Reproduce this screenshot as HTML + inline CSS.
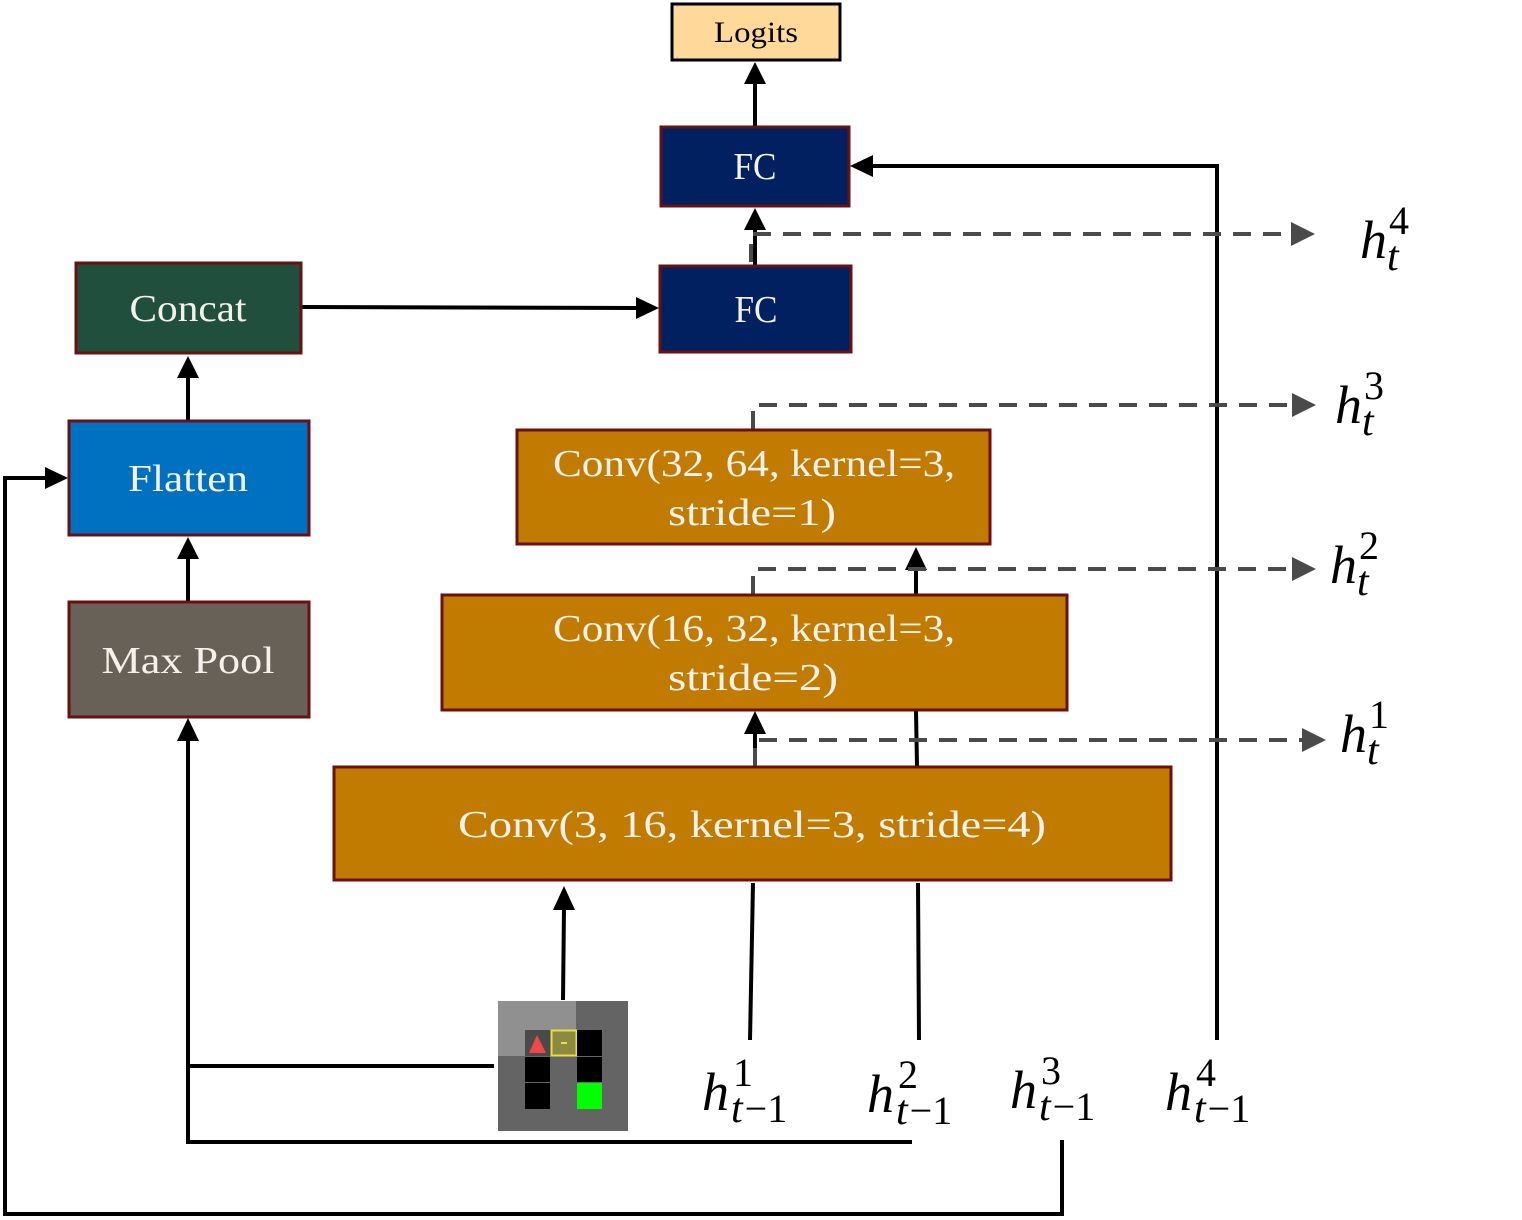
<!DOCTYPE html>
<html><head><meta charset="utf-8"><style>
html,body{margin:0;padding:0;background:#fff}
svg{display:block}
text{font-family:"Liberation Serif",serif}
.bt{fill:#f4f1ea;font-size:38px;text-anchor:middle}
.m{font-style:italic;font-size:54px;fill:#000}
.s{font-style:normal;font-size:40px}
.si{font-style:italic;font-size:42px}
</style></head><body>
<svg width="1522" height="1220" viewBox="0 0 1522 1220" xmlns="http://www.w3.org/2000/svg">
<g stroke="#000" stroke-width="4" fill="none">
<line x1="755" y1="126" x2="755" y2="80"/>
<line x1="755" y1="265" x2="755" y2="228"/>
<polyline points="1217,1040 1217,166 870,166"/>
<line x1="302" y1="307" x2="640" y2="308"/>
<line x1="188" y1="420" x2="188" y2="378"/>
<line x1="188" y1="601" x2="188" y2="558"/>
<polyline points="1062,1140 1062,1214 5,1214 5,478 48,478"/>
<polyline points="912,1142 188,1142 188,740"/>
<line x1="188" y1="1066" x2="494" y2="1066"/>
<line x1="563" y1="1000" x2="564" y2="908"/>
<line x1="750" y1="1040" x2="753" y2="883"/>
<line x1="755" y1="766" x2="755" y2="733"/>
<line x1="919" y1="1040" x2="918" y2="883"/>
<line x1="917" y1="766" x2="916" y2="711"/>
<line x1="916" y1="594" x2="916" y2="568"/>
</g>
<g fill="#000">
<polygon points="755,62 744,84 766,84"/>
<polygon points="755,208 744,230 766,230"/>
<polygon points="850,166 873,155 873,177"/>
<polygon points="659,308 636,297 636,319"/>
<polygon points="188,356 177,378 199,378"/>
<polygon points="188,537 177,559 199,559"/>
<polygon points="68,478 45,467 45,489"/>
<polygon points="188,718 177,741 199,741"/>
<polygon points="564,886 553,910 575,910"/>
<polygon points="755,711 744,734 766,734"/>
<polygon points="916,547 905,570 927,570"/>
</g>
<g stroke="#4a4a4a" stroke-width="4" fill="none" stroke-dasharray="18,12">
<polyline points="751,262 751,234 1292,234"/>
<polyline points="753,429 753,405 1292,405"/>
<polyline points="753,594 753,569 1292,569"/>
<polyline points="755,766 755,740 1302,740"/>
</g>
<g fill="#4a4a4a">
<polygon points="1315,234 1291,222 1291,246"/>
<polygon points="1316,405 1292,393 1292,417"/>
<polygon points="1316,569 1292,557 1292,581"/>
<polygon points="1326,740 1302,728 1302,752"/>
</g>
<rect x="672" y="4" width="168" height="56" fill="#ffd99a" stroke="#000" stroke-width="3"/>
<text x="756" y="42" font-size="30" text-anchor="middle" fill="#000" textLength="84" lengthAdjust="spacingAndGlyphs">Logits</text>
<rect x="661" y="127" width="188" height="79" fill="#002060" stroke="#6b1010" stroke-width="3"/>
<text x="755" y="179" class="bt" textLength="43" lengthAdjust="spacingAndGlyphs">FC</text>
<rect x="660" y="266" width="191" height="86" fill="#002060" stroke="#6b1010" stroke-width="3"/>
<text x="756" y="322" class="bt" textLength="43" lengthAdjust="spacingAndGlyphs">FC</text>
<rect x="76" y="263" width="225" height="90" fill="#214f3d" stroke="#6b1010" stroke-width="3"/>
<text x="188" y="321" class="bt" textLength="117" lengthAdjust="spacingAndGlyphs">Concat</text>
<rect x="69" y="421" width="240" height="114" fill="#0070c0" stroke="#6b1010" stroke-width="3"/>
<text x="188" y="491" class="bt" textLength="120" lengthAdjust="spacingAndGlyphs">Flatten</text>
<rect x="69" y="602" width="240" height="115" fill="#686158" stroke="#6b1010" stroke-width="3"/>
<text x="188" y="673" class="bt" font-size="42" textLength="173" lengthAdjust="spacingAndGlyphs">Max Pool</text>
<rect x="517" y="430" width="473" height="114" fill="#c07b00" stroke="#6b1010" stroke-width="3"/>
<text x="754" y="476" class="bt" textLength="402" lengthAdjust="spacingAndGlyphs">Conv(32, 64, kernel=3,</text>
<text x="752" y="525" class="bt" textLength="168" lengthAdjust="spacingAndGlyphs">stride=1)</text>
<rect x="442" y="595" width="625" height="115" fill="#c07b00" stroke="#6b1010" stroke-width="3"/>
<text x="754" y="641" class="bt" textLength="402" lengthAdjust="spacingAndGlyphs">Conv(16, 32, kernel=3,</text>
<text x="753" y="690" class="bt" textLength="170" lengthAdjust="spacingAndGlyphs">stride=2)</text>
<rect x="334" y="767" width="837" height="113" fill="#c07b00" stroke="#6b1010" stroke-width="3"/>
<text x="752" y="837" class="bt" textLength="588" lengthAdjust="spacingAndGlyphs">Conv(3, 16, kernel=3, stride=4)</text>
<rect x="498" y="1001" width="130" height="130" fill="#646464"/>
<rect x="498" y="1001" width="78" height="55" fill="#909090"/>
<rect x="525" y="1030" width="26" height="26" fill="#4a4a4a"/>
<polygon points="537,1035 529,1053 546,1053" fill="#f04848"/>
<rect x="551.5" y="1030.5" width="25" height="25" fill="#8c8a40" stroke="#e8e040" stroke-width="2"/>
<rect x="561" y="1042" width="6" height="2" fill="#e8e040"/>
<rect x="577" y="1030" width="25" height="26" fill="#000"/>
<rect x="525" y="1057" width="25" height="25" fill="#000"/>
<rect x="577" y="1057" width="25" height="25" fill="#000"/>
<rect x="525" y="1083" width="25" height="26" fill="#000"/>
<rect x="577" y="1083" width="25" height="26" fill="#00ff00"/>
<text x="1360" y="258" class="m">h<tspan class="s" dx="2" dy="-24">4</tspan><tspan class="si" dx="-22" dy="36">t</tspan></text>
<text x="1335" y="423" class="m">h<tspan class="s" dx="2" dy="-24">3</tspan><tspan class="si" dx="-22" dy="36">t</tspan></text>
<text x="1330" y="583" class="m">h<tspan class="s" dx="2" dy="-24">2</tspan><tspan class="si" dx="-22" dy="36">t</tspan></text>
<text x="1340" y="752" class="m">h<tspan class="s" dx="2" dy="-24">1</tspan><tspan class="si" dx="-22" dy="36">t</tspan></text>
<text x="702" y="1110" class="m">h<tspan class="s" dx="4" dy="-24">1</tspan><tspan class="si" dx="-22" dy="36">t</tspan><tspan class="s" dx="2">−1</tspan></text>
<text x="867" y="1112" class="m">h<tspan class="s" dx="4" dy="-24">2</tspan><tspan class="si" dx="-22" dy="36">t</tspan><tspan class="s" dx="2">−1</tspan></text>
<text x="1010" y="1108" class="m">h<tspan class="s" dx="4" dy="-24">3</tspan><tspan class="si" dx="-22" dy="36">t</tspan><tspan class="s" dx="2">−1</tspan></text>
<text x="1165" y="1110" class="m">h<tspan class="s" dx="4" dy="-24">4</tspan><tspan class="si" dx="-22" dy="36">t</tspan><tspan class="s" dx="2">−1</tspan></text>
</svg>
</body></html>
